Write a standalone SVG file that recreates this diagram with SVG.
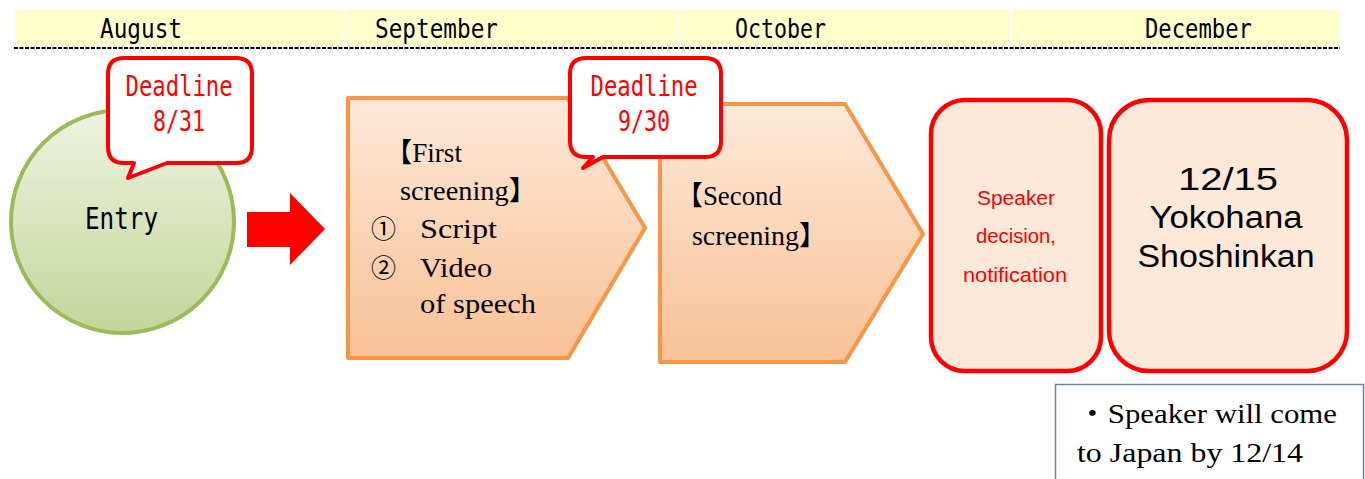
<svg xmlns="http://www.w3.org/2000/svg" width="1365" height="479" viewBox="0 0 1365 479">
<style>
.month{font-family:"DejaVu Sans Mono","Liberation Mono",monospace;font-size:27px;fill:#000}
.dl{font-family:"DejaVu Sans Mono","Liberation Mono",monospace;font-size:28px;fill:#FF0000;text-anchor:middle}
.serif{font-family:"Liberation Serif","DejaVu Serif","Noto Sans CJK JP",serif;font-size:27px;fill:#000}
.circ{font-family:"Noto Sans CJK JP","DejaVu Sans",sans-serif;font-size:25px;fill:#000}
.sans{font-family:"Liberation Sans","Noto Sans",sans-serif}
.callout{fill:#FFFFFF;stroke:#FF0000;stroke-width:4;stroke-linejoin:round}
.step{stroke:#F79646;stroke-width:4;stroke-linejoin:round;fill:url(#orangeGrad)}
.redbox{fill:#FDE9D9;stroke:#FF0000;stroke-width:4.5}
</style>
<defs>
<linearGradient id="greenGrad" x1="0" y1="0" x2="0" y2="1">
<stop offset="0" stop-color="#EDF3E1"/>
<stop offset="1" stop-color="#C3D69B"/>
</linearGradient>
<linearGradient id="orangeGrad" x1="0" y1="0" x2="0" y2="1">
<stop offset="0" stop-color="#FDE9D9"/>
<stop offset="1" stop-color="#F9C196"/>
</linearGradient>
</defs>
<rect width="1365" height="479" fill="#FFFFFF"/>
<g id="header">
<rect x="15" y="10" width="1325" height="36" fill="#FFFFCC"/>
<line x1="346" y1="10" x2="346" y2="47" stroke="#FFFFFF" stroke-width="2"/>
<line x1="678" y1="10" x2="678" y2="47" stroke="#FFFFFF" stroke-width="2"/>
<line x1="1011" y1="10" x2="1011" y2="47" stroke="#FFFFFF" stroke-width="2"/>
<line x1="14" y1="48" x2="1340" y2="48" stroke="#000000" stroke-width="2" stroke-dasharray="4,1.5"/>
<text class="month" x="100" y="38" textLength="82" lengthAdjust="spacingAndGlyphs">August</text>
<text class="month" x="375" y="38" textLength="123" lengthAdjust="spacingAndGlyphs">September</text>
<text class="month" x="735" y="38" textLength="91" lengthAdjust="spacingAndGlyphs">October</text>
<text class="month" x="1145" y="38" textLength="107" lengthAdjust="spacingAndGlyphs">December</text>
</g>
<g id="entry">
<circle cx="122.5" cy="221.5" r="111.5" fill="url(#greenGrad)" stroke="#9BBB59" stroke-width="4"/>
<text x="85" y="229" font-family="DejaVu Sans Mono,Liberation Mono,monospace" font-size="30" textLength="73" lengthAdjust="spacingAndGlyphs">Entry</text>
</g>
<g id="connectors">
<path d="M247,212 H290 V193 L325,229 L290,265 V247 H247 Z" fill="#FF0000"/>
</g>
<g id="first-screening">
<path class="step" d="M348,98 H567 L645,228 L568,358 H348 Z"/>
<text class="serif" x="385" y="162" textLength="77" lengthAdjust="spacingAndGlyphs">【First</text>
<text class="serif" x="400" y="200" textLength="137" lengthAdjust="spacingAndGlyphs">screening】</text>
<text class="circ" x="371" y="238">①</text>
<text class="serif" x="420" y="238" textLength="77" lengthAdjust="spacingAndGlyphs">Script</text>
<text class="circ" x="371" y="277">②</text>
<text class="serif" x="420" y="277" textLength="72" lengthAdjust="spacingAndGlyphs">Video</text>
<text class="serif" x="420" y="313" textLength="116" lengthAdjust="spacingAndGlyphs">of speech</text>
</g>
<g id="second-screening">
<path class="step" d="M660,104 H845 L923,234 L845,362 H660 Z"/>
<text class="serif" x="676" y="205" textLength="106" lengthAdjust="spacingAndGlyphs">【Second</text>
<text class="serif" x="692" y="245" textLength="135" lengthAdjust="spacingAndGlyphs">screening】</text>
</g>
<g id="deadline-1">
<path class="callout" d="M124,58 H236 Q252,58 252,74 V147 Q252,163 236,163 H167 L128,178 L134,163 H124 Q108,163 108,147 V74 Q108,58 124,58 Z"/>
<text class="dl" x="179" y="96" textLength="107" lengthAdjust="spacingAndGlyphs">Deadline</text>
<text class="dl" x="179" y="131" textLength="52" lengthAdjust="spacingAndGlyphs">8/31</text>
</g>
<g id="deadline-2">
<path class="callout" d="M586,58 H705 Q721,58 721,74 V141 Q721,157 705,157 H603 L583,168 L593,157 H586 Q570,157 570,141 V74 Q570,58 586,58 Z"/>
<text class="dl" x="644" y="96" textLength="107" lengthAdjust="spacingAndGlyphs">Deadline</text>
<text class="dl" x="644" y="131" textLength="52" lengthAdjust="spacingAndGlyphs">9/30</text>
</g>
<g id="speaker-decision">
<rect class="redbox" x="931" y="100" width="170" height="271" rx="34"/>
<text class="sans" x="1016" y="205" font-size="20" fill="#FF0000" text-anchor="middle" textLength="78" lengthAdjust="spacingAndGlyphs">Speaker</text>
<text class="sans" x="1016" y="243" font-size="20" fill="#FF0000" text-anchor="middle" textLength="80" lengthAdjust="spacingAndGlyphs">decision,</text>
<text class="sans" x="1015" y="282" font-size="20" fill="#FF0000" text-anchor="middle" textLength="104" lengthAdjust="spacingAndGlyphs">notification</text>
</g>
<g id="event">
<rect class="redbox" x="1109" y="100" width="238" height="271" rx="40"/>
<text class="sans" x="1228" y="190" font-size="31" fill="#000" text-anchor="middle" textLength="100" lengthAdjust="spacingAndGlyphs">12/15</text>
<text class="sans" x="1226" y="228" font-size="31" fill="#000" text-anchor="middle" textLength="153" lengthAdjust="spacingAndGlyphs">Yokohana</text>
<text class="sans" x="1226" y="267" font-size="31" fill="#000" text-anchor="middle" textLength="177" lengthAdjust="spacingAndGlyphs">Shoshinkan</text>
</g>
<g id="note">
<rect x="1055.5" y="384.5" width="308" height="100" fill="#FFFFFF" stroke="#6A84A8" stroke-width="1.5"/>
<text class="serif" x="1077" y="423" font-size="26" textLength="260" lengthAdjust="spacingAndGlyphs">・Speaker will come</text>
<text class="serif" x="1077" y="462" font-size="26" textLength="226" lengthAdjust="spacingAndGlyphs">to Japan by 12/14</text>
</g>
</svg>
